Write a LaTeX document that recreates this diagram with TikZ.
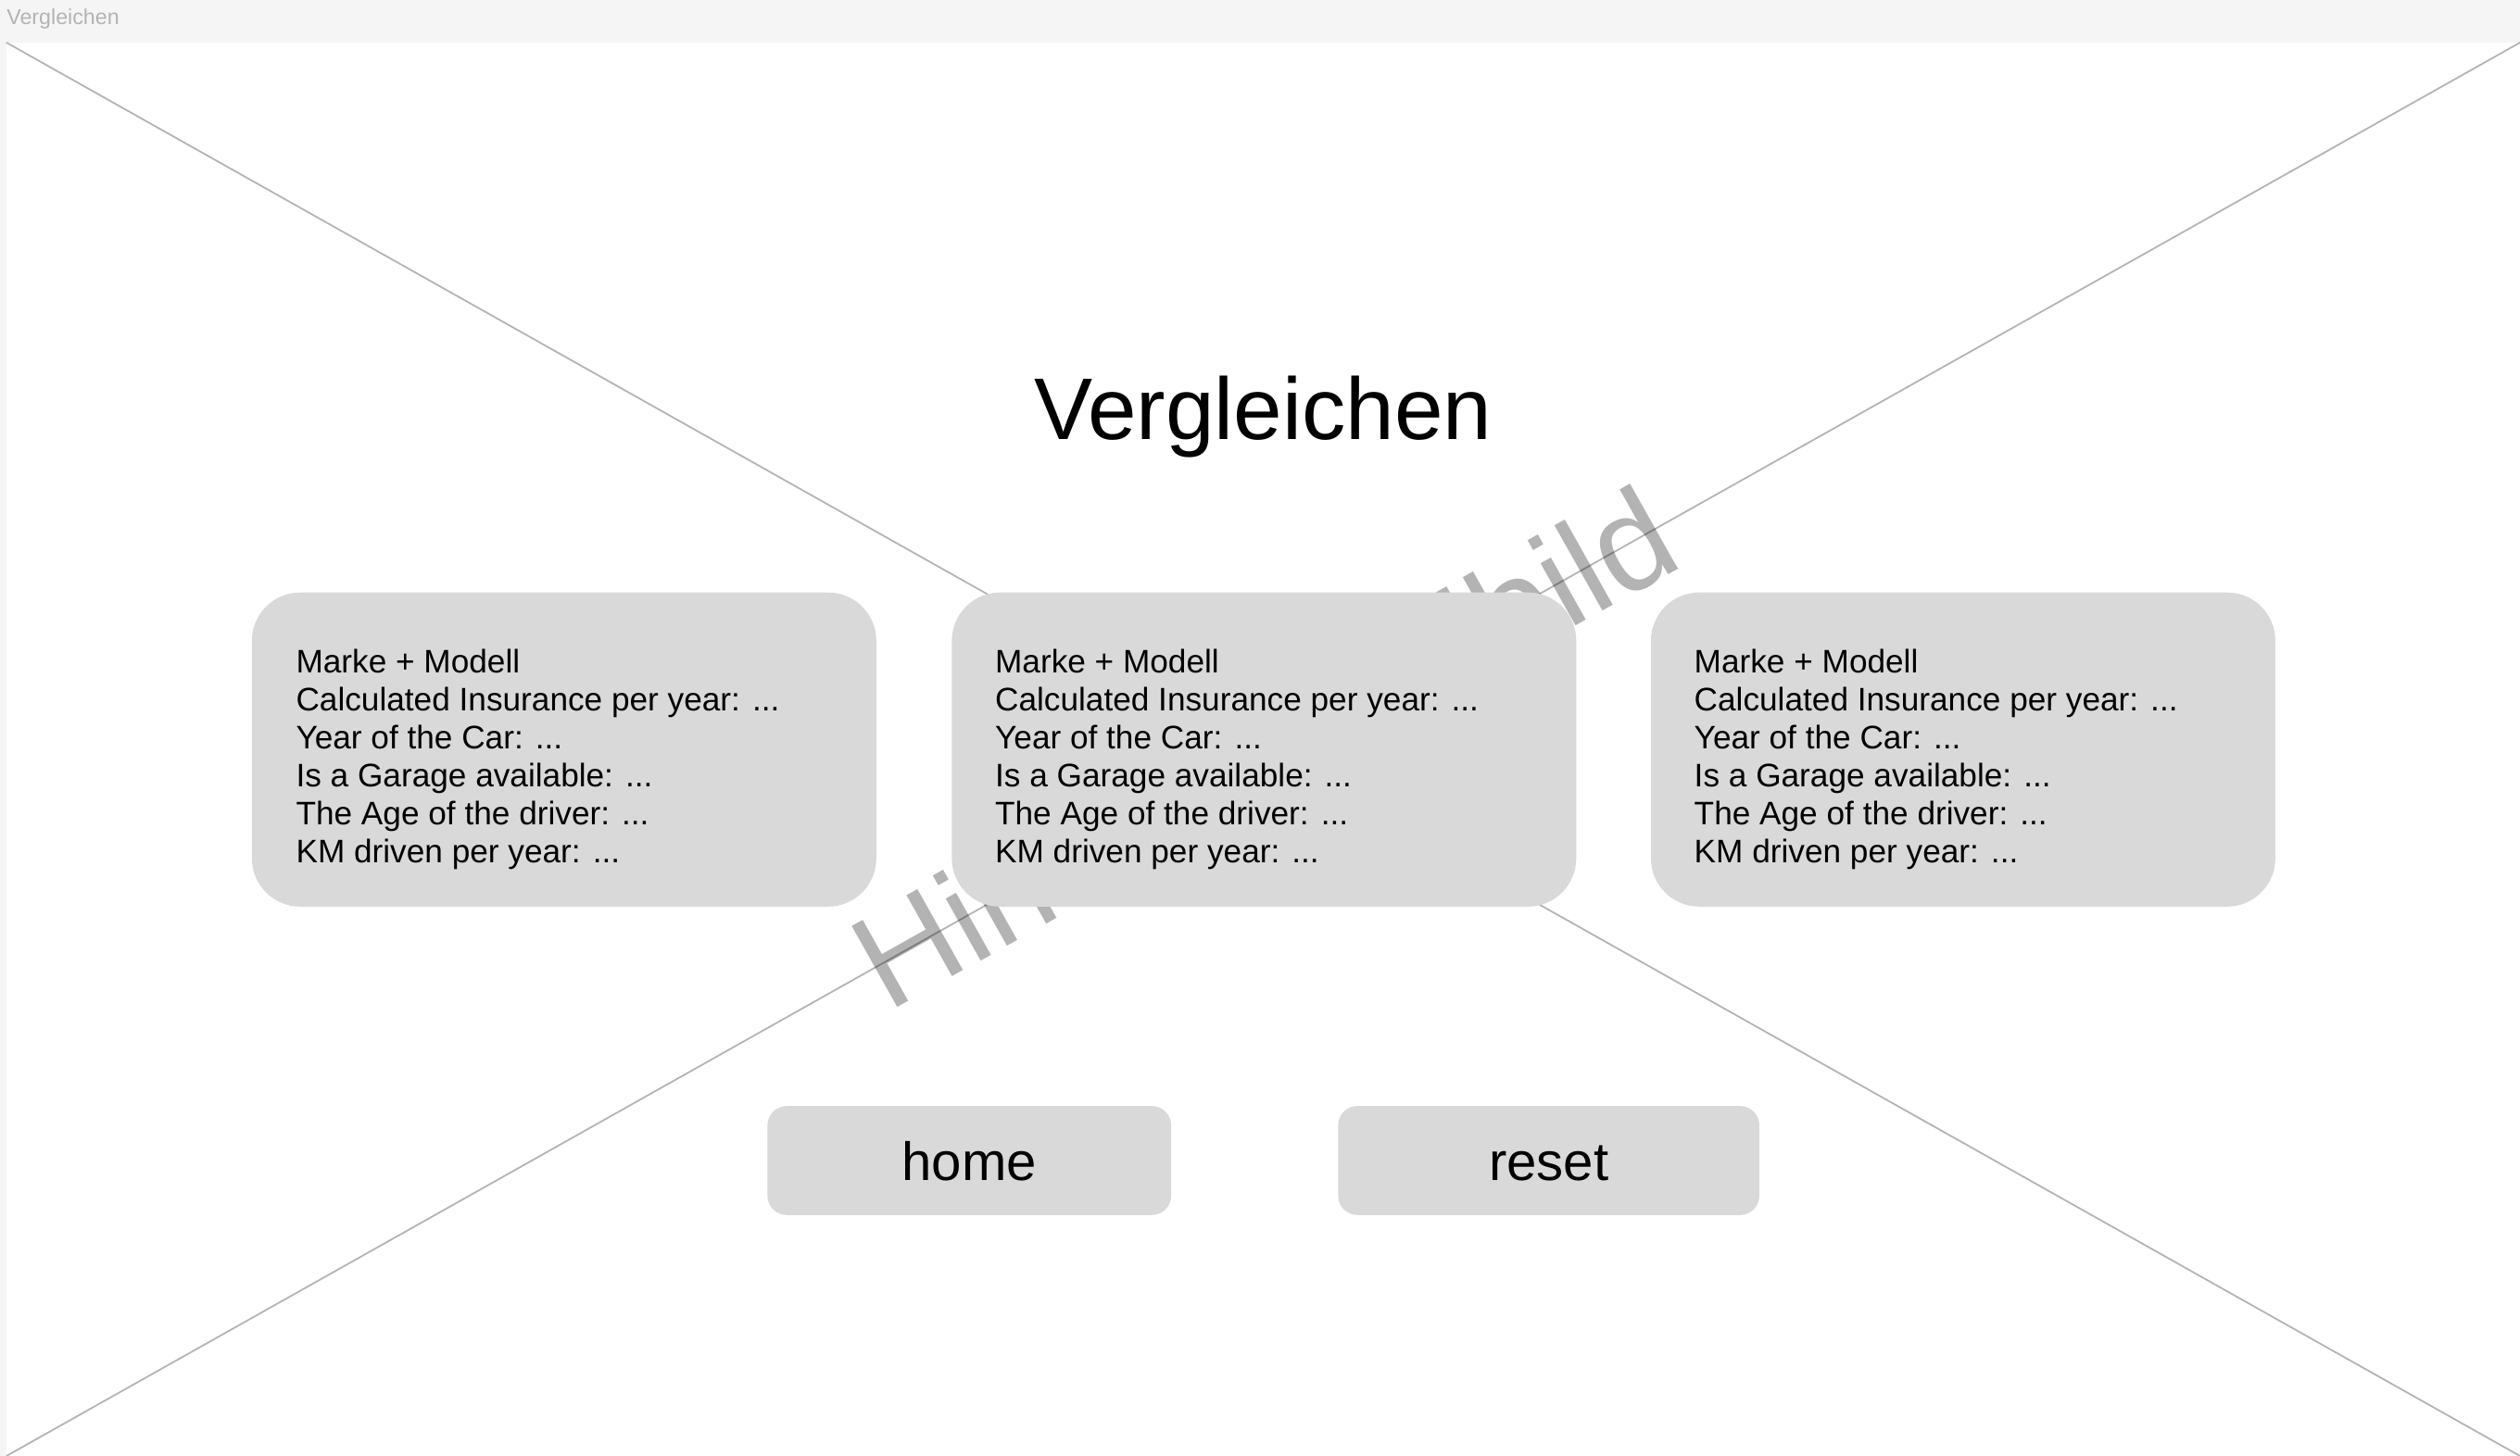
\documentclass[tikz,border=0pt]{standalone}
\usepackage{fontspec}
\setmainfont{Liberation Sans}
\definecolor{bggray}{HTML}{F5F5F5}
\definecolor{boxgray}{HTML}{D9D9D9}
\definecolor{wmgray}{HTML}{B3B3B3}
\newcommand\mycardlines{\vtop{\baselineskip=23.6pt
  \hbox{Marke + Modell}
  \hbox{Calculated Insurance per year: ...}
  \hbox{Year of the Car: ...}
  \hbox{Is a Garage available: ...}
  \hbox{The Age of the driver: ...}
  \hbox{KM driven per year: ...}}}
\begin{document}
\begin{tikzpicture}[x=1pt,y=-1pt,
  cardbox/.style={fill=boxgray, rounded corners=30pt, minimum width=388.5pt, minimum height=195.5pt, inner sep=0pt},
  cardtext/.style={anchor=base west, inner sep=0pt, font=\fontsize{20.3}{23.6}\selectfont},
  btn/.style={fill=boxgray, rounded corners=12pt, minimum height=67.8pt, inner sep=0pt, text height=24.3pt, text depth=0pt, font=\fontsize{33.5}{40}\selectfont},
  xline/.style={draw=black, opacity=0.3, line width=1pt}]
\useasboundingbox (0,0) rectangle (1568,906.2);
\fill[bggray] (0,0) rectangle (1568,906.2);
\fill[white] (4,26.5) rectangle (1568,906.2);
\node[anchor=base west, inner sep=0pt, text=wmgray, font=\fontsize{13.4}{16}\selectfont] (hdr) at (4,15.4) {Vergleichen};
\coordinate (tl) at (4,26.5);
\coordinate (tr) at (1568,26.5);
\coordinate (bl) at (4,906.2);
\coordinate (br) at (1568,906.2);
\node[rotate=29.36, anchor=base, inner sep=0pt, text=wmgray, font=\fontsize{84}{96}\selectfont] (wm) at (801,490.8) {Hintergrundbild};
\draw[xline] (tl) -- (br);
\draw[xline] (tr) -- (bl);
\node[anchor=base, inner sep=0pt, font=\fontsize{54.5}{60}\selectfont] (title) at (786,273.8) {Vergleichen};
\node[cardbox] (c1) at (351,466.5) {};
\node[cardbox] (c2) at (786.5,466.5) {};
\node[cardbox] (c3) at (1221.5,466.5) {};
\node[cardtext] (t1) at (184,419) {\mycardlines};
\node[cardtext] (t2) at (619,419) {\mycardlines};
\node[cardtext] (t3) at (1054,419) {\mycardlines};
\node[btn, minimum width=251.2pt] (home) at (603.1,722.3) {home};
\node[btn, minimum width=262.1pt] (reset) at (963.65,722.3) {reset};
\end{tikzpicture}
\end{document}
